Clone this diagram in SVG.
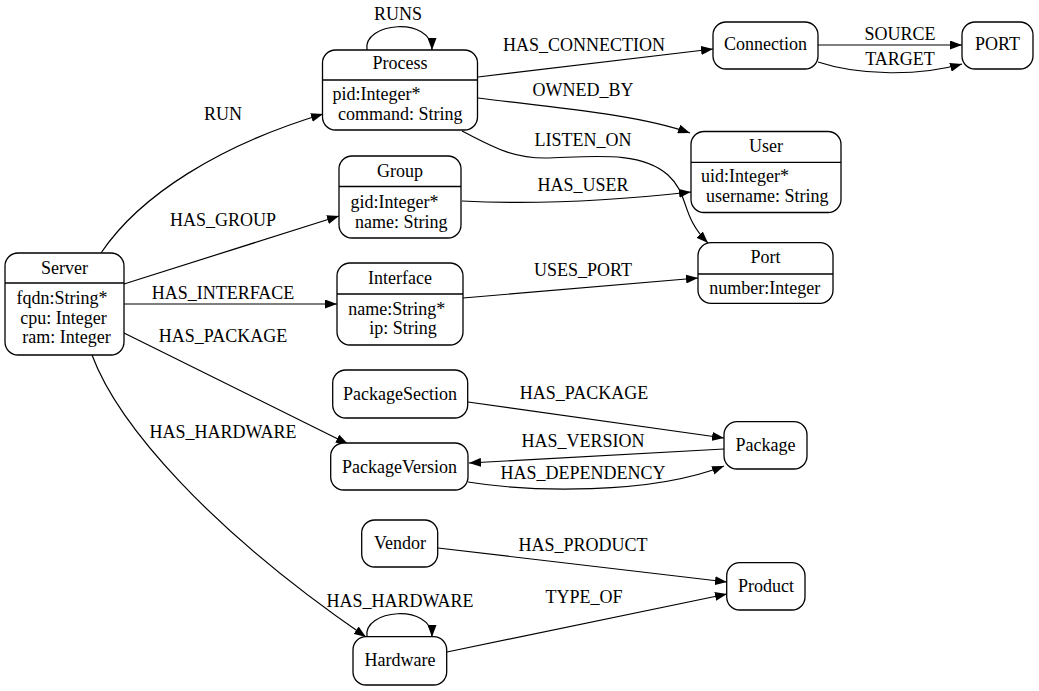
<svg xmlns="http://www.w3.org/2000/svg" width="1039" height="691" viewBox="0 0 1039 691">
<style>
text{font-family:'Liberation Serif','Times New Roman',serif;font-size:18px;fill:#000}
.t{text-anchor:middle}
.box{fill:#fff;stroke:#000;stroke-width:1.3}
.sep{stroke:#000;stroke-width:1.3}
.e{fill:none;stroke:#000;stroke-width:1.2;marker-end:url(#ah)}
</style>
<defs>
<marker id="ah" viewBox="0 0 12 9" refX="12" refY="4.5" markerWidth="12" markerHeight="9" markerUnits="userSpaceOnUse" orient="auto">
<path d="M0,0 L12,4.5 L0,9 z" fill="#000"/>
</marker>
</defs>
<rect width="1039" height="691" fill="#fff"/>
<g id="connectors">
<path class="e" d="M367,50 C362,22 432,16 432,50"/>
<text class="t" x="398" y="20">RUNS</text>
<path class="e" d="M478,77 L713,49"/>
<text class="t" x="584" y="51">HAS_CONNECTION</text>
<path class="e" d="M478,98 C560,108 640,115 690,133"/>
<text class="t" x="583" y="96">OWNED_BY</text>
<path class="e" d="M462,131 C490,145 510,158 545,158 C590,157 640,150 668,175 C690,195 680,215 708,243"/>
<text class="t" x="583" y="146">LISTEN_ON</text>
<path class="e" d="M462,201 C540,205 620,200 691,192"/>
<text class="t" x="583" y="191">HAS_USER</text>
<path class="e" d="M463,298 L698,278"/>
<text class="t" x="583" y="276">USES_PORT</text>
<path class="e" d="M818,45 L962,45"/>
<text class="t" x="900" y="40">SOURCE</text>
<path class="e" d="M818,62 C860,76 920,76 962,64"/>
<text class="t" x="900" y="65">TARGET</text>
<path class="e" d="M101,253 C140,195 220,145 323,114"/>
<text class="t" x="223" y="120">RUN</text>
<path class="e" d="M124,284 L339,216"/>
<text class="t" x="223" y="226">HAS_GROUP</text>
<path class="e" d="M124,304 L337,304"/>
<text class="t" x="223" y="299">HAS_INTERFACE</text>
<path class="e" d="M124,333 L348,444"/>
<text class="t" x="223" y="342">HAS_PACKAGE</text>
<path class="e" d="M92,355 C118,425 210,530 366,637"/>
<text class="t" x="223" y="438">HAS_HARDWARE</text>
<path class="e" d="M468,402 L724,438"/>
<text class="t" x="584" y="399">HAS_PACKAGE</text>
<path class="e" d="M724,449 L469,463"/>
<text class="t" x="583" y="447">HAS_VERSION</text>
<path class="e" d="M468,482 C530,492 650,495 724,466"/>
<text class="t" x="583" y="479">HAS_DEPENDENCY</text>
<path class="e" d="M438,548 L727,582"/>
<text class="t" x="583" y="551">HAS_PRODUCT</text>
<path class="e" d="M447,652 L727,594"/>
<text class="t" x="584" y="603">TYPE_OF</text>
<path class="e" d="M367,637 C362,609 432,603 432,637"/>
<text class="t" x="400" y="607">HAS_HARDWARE</text>
</g>
<g id="Server">
<rect class="box" x="5" y="253" width="119" height="102" rx="13"/>
<line class="sep" x1="5" y1="283" x2="124" y2="283"/>
<text class="t" x="64.5" y="274">Server</text>
<text x="16.5" y="304">fqdn:String*</text>
<text x="20.3" y="323.5">cpu: Integer</text>
<text x="22.3" y="342.7">ram: Integer</text>
</g>
<g id="Process">
<rect class="box" x="322.5" y="50" width="155" height="80" rx="13"/>
<line class="sep" x1="322.5" y1="80" x2="477.5" y2="80"/>
<text class="t" x="400" y="69">Process</text>
<text x="332.5" y="100">pid:Integer*</text>
<text x="338" y="119.5">command: String</text>
</g>
<g id="Group">
<rect class="box" x="339" y="156" width="122" height="82" rx="13"/>
<line class="sep" x1="339" y1="186.5" x2="461" y2="186.5"/>
<text class="t" x="400" y="177">Group</text>
<text x="350.5" y="208.3">gid:Integer*</text>
<text x="355" y="228.3">name: String</text>
</g>
<g id="Interface">
<rect class="box" x="337" y="263" width="126" height="82" rx="13"/>
<line class="sep" x1="337" y1="294" x2="463" y2="294"/>
<text class="t" x="400" y="283.5">Interface</text>
<text x="348.3" y="315">name:String*</text>
<text x="369.3" y="334.3">ip: String</text>
</g>
<g id="Connection">
<rect class="box" x="713" y="22" width="105" height="47" rx="13"/>
<text class="t" x="765.5" y="50">Connection</text>
</g>
<g id="PORT">
<rect class="box" x="962" y="22" width="71" height="47" rx="13"/>
<text class="t" x="997.5" y="50">PORT</text>
</g>
<g id="User">
<rect class="box" x="691" y="131.5" width="150" height="81" rx="13"/>
<line class="sep" x1="691" y1="162.3" x2="841" y2="162.3"/>
<text class="t" x="766" y="152">User</text>
<text x="701" y="181.7">uid:Integer*</text>
<text x="706" y="201.7">username: String</text>
</g>
<g id="Port">
<rect class="box" x="698" y="242.7" width="135" height="60.6" rx="13"/>
<line class="sep" x1="698" y1="274" x2="833" y2="274"/>
<text class="t" x="765.5" y="263">Port</text>
<text x="709.3" y="293.5">number:Integer</text>
</g>
<g id="PackageSection">
<rect class="box" x="332.7" y="370" width="135" height="48" rx="13"/>
<text class="t" x="400" y="400">PackageSection</text>
</g>
<g id="PackageVersion">
<rect class="box" x="330.7" y="443" width="137.3" height="47" rx="13"/>
<text class="t" x="399.5" y="473">PackageVersion</text>
</g>
<g id="Package">
<rect class="box" x="724" y="421.7" width="83" height="47.3" rx="13"/>
<text class="t" x="765.5" y="450.7">Package</text>
</g>
<g id="Vendor">
<rect class="box" x="361.7" y="520" width="76" height="47" rx="13"/>
<text class="t" x="400" y="549">Vendor</text>
</g>
<g id="Product">
<rect class="box" x="726.7" y="562.7" width="78.3" height="47.3" rx="13"/>
<text class="t" x="766" y="591.7">Product</text>
</g>
<g id="Hardware">
<rect class="box" x="353" y="636.7" width="93.7" height="48.3" rx="13"/>
<text class="t" x="400" y="665.7">Hardware</text>
</g>
</svg>
